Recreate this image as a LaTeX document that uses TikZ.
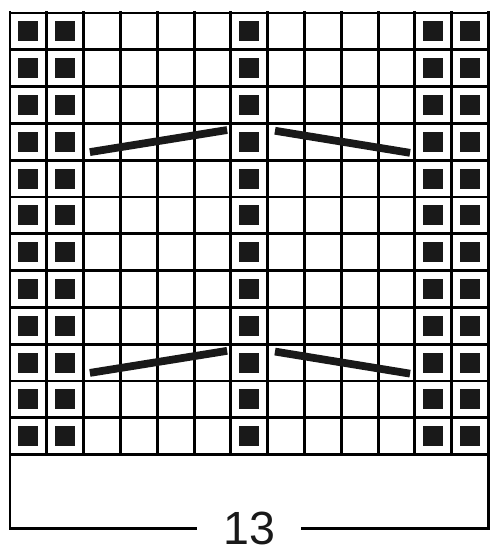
\documentclass[tikz,border=0pt]{standalone}
\usepackage{fontspec}
\setmainfont{Liberation Sans}
\usetikzlibrary{positioning}

\tikzset{
  gridline/.style={line width=2.3pt, line cap=rect},
  purl/.style={fill=black!90},
  decline/.style={line width=6pt, black!90},
}

\begin{document}
\begin{tikzpicture}
  \useasboundingbox (-0.272,0.353) rectangle (13.043,-14.728);

  % chart grid, 13 sts x 12 rows
  \draw[gridline] (0,-12) grid (13,0);

  % purl squares
  \foreach \c in {0,1,6,11,12}
    \foreach \r in {1,...,12}
      \fill[purl] (\c+0.5,-\r+0.5) +(-0.27,-0.27) rectangle +(0.27,0.27);

  % decreases
  \foreach \r in {0,6} {
    \draw[decline] (2.17,-3.78-\r) -- (5.9,-3.18-\r);
    \draw[decline] (7.2,-3.2-\r) -- (10.87,-3.8-\r);
  }

  % width label
  \coordinate (bl) at (0,-14);
  \coordinate (br) at (13,-14);
  \node[font=\fontsize{36}{36}\selectfont, anchor=base, inner xsep=0.75cm,
        inner ysep=0pt, text=black!90] (width) at (6.5,-14.45) {13};
  \draw[gridline] (0,-12) -- (bl) -- (width.west |- bl);
  \draw[gridline] (13,-12) -- (br) -- (width.east |- br);
\end{tikzpicture}
\end{document}
